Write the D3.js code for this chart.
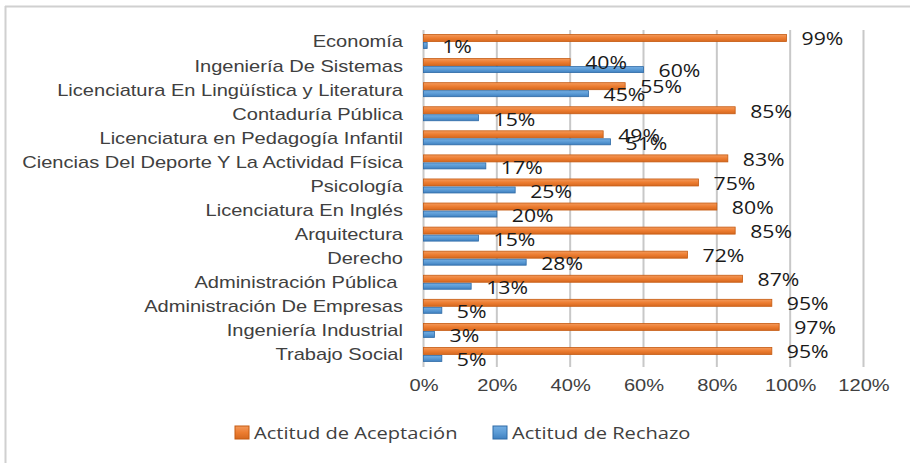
<!DOCTYPE html>
<html>
<head>
<meta charset="utf-8">
<script src="https://cdn.jsdelivr.net/npm/d3@7"></script>
<style>
	body { margin: 0; background: #fff; }
	svg { display: block; font-family: "Open Sans", "Noto Sans", sans-serif; }
</style>
</head>
<body>
<svg width="910" height="463"></svg>
<script>
'use strict';

const categories = [
	"Economía",
	"Ingeniería De Sistemas",
	"Licenciatura En Lingüística y Literatura",
	"Contaduría Pública",
	"Licenciatura en Pedagogía Infantil",
	"Ciencias Del Deporte Y La Actividad Física",
	"Psicología",
	"Licenciatura En Inglés",
	"Arquitectura",
	"Derecho",
	"Administración Pública ",
	"Administración De Empresas",
	"Ingeniería Industrial",
	"Trabajo Social"
];
const aceptacion = [0.99, 0.40, 0.55, 0.85, 0.49, 0.83, 0.75, 0.80, 0.85, 0.72, 0.87, 0.95, 0.97, 0.95];
const rechazo = [0.01, 0.60, 0.45, 0.15, 0.51, 0.17, 0.25, 0.20, 0.15, 0.28, 0.13, 0.05, 0.03, 0.05];
const xTicks = [0, 0.2, 0.4, 0.6, 0.8, 1.0, 1.2];
const seriesNames = ["Actitud de Aceptación", "Actitud de Rechazo"];

const svg = d3.select("svg");

// chart border (only top and left show in the picture)
svg.append("line").attr("x1", 5).attr("x2", 910).attr("y1", 6.5).attr("y2", 6.5)
	.attr("stroke", "#d0d0d0").attr("stroke-width", 2);
svg.append("line").attr("x1", 5.5).attr("x2", 5.5).attr("y1", 6).attr("y2", 463)
	.attr("stroke", "#d0d0d0").attr("stroke-width", 2);

const x = d3.scaleLinear().domain([0, 1.2]).range([423.5, 863.5]);
const y = d3.scaleBand().domain(categories).range([30, 367]);

const defs = svg.append("defs");
function grad(id, c1, c2, c3) {
	const g = defs.append("linearGradient").attr("id", id)
		.attr("x1", 0).attr("y1", 0).attr("x2", 0).attr("y2", 1);
	g.append("stop").attr("offset", "0%").attr("stop-color", c1);
	g.append("stop").attr("offset", "50%").attr("stop-color", c2);
	g.append("stop").attr("offset", "100%").attr("stop-color", c3);
}
grad("gOrange", "#f39a5c", "#ed7d31", "#d5681f");
grad("gBlue", "#74aee3", "#5b9bd5", "#3f80c0");

// gridlines
svg.append("g")
	.selectAll("line")
	.data(xTicks)
	.enter().append("line")
	.attr("x1", d => x(d)).attr("x2", d => x(d))
	.attr("y1", 30).attr("y2", 367)
	.attr("stroke", "#c8c8c8")
	.attr("stroke-width", 2);

// x axis labels
const xAxis = svg.append("g")
	.attr("transform", "translate(0,385)")
	.call(d3.axisBottom(x).tickValues(xTicks).tickFormat(d3.format(".0%")).tickSize(0));
xAxis.select(".domain").remove();
xAxis.selectAll("text")
	.attr("fill", "#404040")
	.style("font-size", "17px")
	.attr("dy", "0.2em");

// category labels
const yAxis = svg.append("g")
	.attr("transform", "translate(403,0)")
	.call(d3.axisLeft(y).tickSize(0).tickPadding(0));
yAxis.select(".domain").remove();
yAxis.selectAll("text")
	.attr("fill", "#404040")
	.style("font-size", "17px")
	.style("white-space", "pre");

const barH = 7;
const rows = categories.map((c, i) => ({ c, a: aceptacion[i], r: rechazo[i] }));

const row = svg.append("g").selectAll("g")
	.data(rows)
	.enter().append("g")
	.attr("transform", d => `translate(0,${y(d.c) + y.bandwidth() / 2})`);

row.append("rect")
	.attr("x", x(0)).attr("y", -barH - 0.5)
	.attr("width", d => x(d.a) - x(0)).attr("height", barH)
	.attr("fill", "url(#gOrange)")
	.attr("stroke", "#c55a11").attr("stroke-width", 0.8);

row.append("rect")
	.attr("x", x(0)).attr("y", 0.5)
	.attr("width", d => x(d.r) - x(0)).attr("height", barH - 1)
	.attr("fill", "url(#gBlue)")
	.attr("stroke", "#2e6aa6").attr("stroke-width", 0.8);

const pct = d3.format(".0%");
row.append("text")
	.attr("x", d => x(d.a) + 15).attr("y", -3)
	.attr("dy", "0.35em")
	.style("font-size", "18px")
	.attr("fill", "#1a1a1a")
	.text(d => pct(d.a));

row.append("text")
	.attr("x", d => x(d.r) + 15).attr("y", 5)
	.attr("dy", "0.35em")
	.style("font-size", "18px")
	.attr("fill", "#1a1a1a")
	.text(d => pct(d.r));

// legend
const legend = svg.append("g")
	.selectAll("g")
	.data(seriesNames)
	.enter().append("g")
	.attr("transform", (d, i) => `translate(${i === 0 ? 235 : 493},426)`);

legend.append("rect")
	.attr("width", 14).attr("height", 13)
	.attr("fill", (d, i) => i === 0 ? "url(#gOrange)" : "url(#gBlue)")
	.attr("stroke", (d, i) => i === 0 ? "#c55a11" : "#2e6aa6");

legend.append("text")
	.attr("x", 19).attr("y", 7)
	.attr("dy", "0.35em")
	.style("font-size", "17px")
	.attr("fill", "#404040")
	.text(d => d);

// the original image is stretched sideways; fit texts to its widths
const longest = yAxis.selectAll("text").filter(d => d === categories[5]).node();
const sx = 381 / longest.getComputedTextLength();
svg.selectAll("text").each(function() {
	const t = d3.select(this);
	const xx = +t.attr("x") || 0;
	t.attr("transform", `translate(${xx},0) scale(${sx},1) translate(${-xx},0)`);
});
</script>
</body>
</html>
